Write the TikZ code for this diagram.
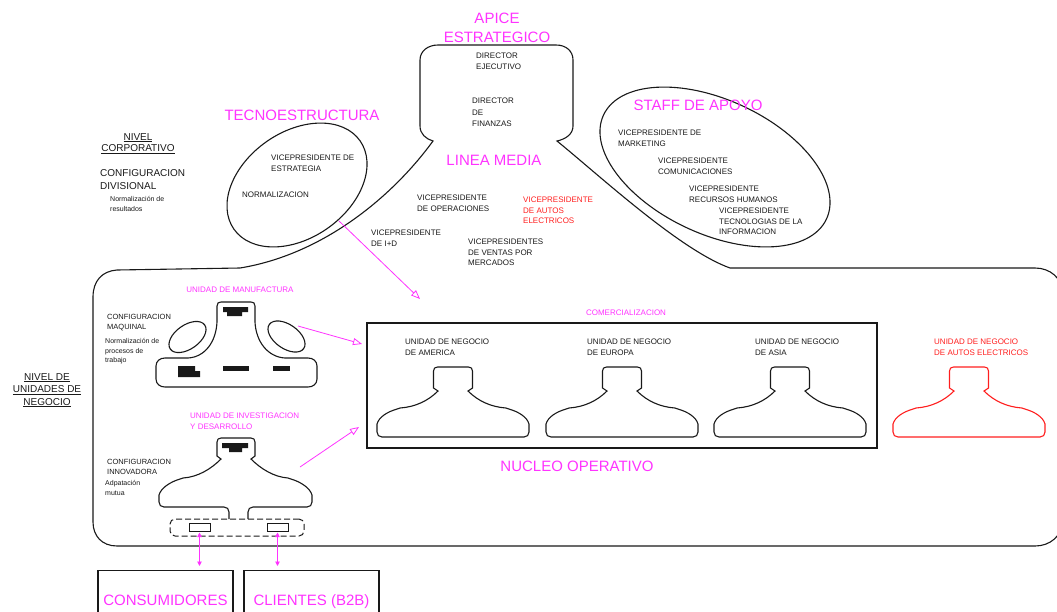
\documentclass[tikz,border=0pt]{standalone}
\usepackage{fontspec}
\setmainfont{Liberation Sans}
\usetikzlibrary{arrows.meta}
\definecolor{mag}{RGB}{255,51,255}
\definecolor{redx}{RGB}{255,30,30}
\definecolor{ink}{RGB}{25,25,25}
\begin{document}
\begin{tikzpicture}[x=1pt,y=-1pt,
  outline/.style={draw=ink,line width=1.1pt},
  txt/.style={inner sep=0pt,anchor=north west,align=left,text=ink,font=\fontsize{8}{10.5}\selectfont},
  smalltxt/.style={inner sep=0pt,anchor=north west,align=left,text=ink,font=\fontsize{7}{10}\selectfont},
  midtxt/.style={inner sep=0pt,anchor=north west,align=left,text=ink,font=\fontsize{7.5}{10}\selectfont},
  leveltxt/.style={inner sep=0pt,anchor=north,align=center,text=ink,font=\fontsize{10}{12}\selectfont},
  bigmag/.style={inner sep=0pt,anchor=north,align=center,text=mag,font=\fontsize{15}{19}\selectfont},
  unitmag/.style={inner sep=0pt,align=left,text=mag,font=\fontsize{8}{10.5}\selectfont},
  parrow/.style={draw=mag,line width=0.8pt,-{Triangle[open,length=9pt,width=7pt]}},
  dblarrow/.style={draw=mag,line width=0.9pt,{Triangle[length=4.5pt,width=4.5pt]}-{Triangle[length=4.5pt,width=4.5pt]}},
  custbox/.style={draw=ink,line width=1.1pt,anchor=north,minimum width=135pt,minimum height=58pt,
    text=mag,font=\fontsize{15}{19}\selectfont,text height=11pt,text depth=0pt},
  tinybox/.style={draw=ink,line width=1pt,minimum width=21pt,minimum height=8pt,inner sep=0pt},
  bu/.pic={
    \draw[line width=1.1pt] (-15,24) .. controls (-25,34) and (-38,40) .. (-53,41) -- (-56,42)
      .. controls (-66,45) and (-74,50) .. (-76,57) -- (-76,65)
      .. controls (-76,68) and (-74,70) .. (-71,70) -- (71,70)
      .. controls (74,70) and (76,68) .. (76,65) -- (76,57)
      .. controls (74,50) and (66,45) .. (56,42) -- (53,41)
      .. controls (38,40) and (25,34) .. (15,24) -- (19.5,21) -- (19.5,4)
      .. controls (19.5,1.5) and (18,0) .. (15.5,0) -- (-15.5,0)
      .. controls (-18,0) and (-19.5,1.5) .. (-19.5,4) -- (-19.5,21) -- cycle;
  }]
\useasboundingbox (0,0) rectangle (1057,611);

% ---- main outline: business-unit frame, middle line and strategic apex
\draw[outline] (93,470) -- (93,297) .. controls (93,281) and (102,271) .. (117,270)
  -- (240,268) .. controls (320,255) and (390,200) .. (433,141)
  .. controls (426,139) and (420,134) .. (420,126) -- (420,60)
  .. controls (420,51) and (428,45) .. (438,45) -- (556,45)
  .. controls (566,45) and (573,51) .. (573,60) -- (573,126)
  .. controls (573,134) and (566,139) .. (557,141)
  .. controls (600,176) and (680,250) .. (730,268) -- (1035,268)
  .. controls (1050,268) and (1062,278) .. (1062,292) -- (1062,522)
  .. controls (1062,536) and (1050,546) .. (1035,546) -- (117,546)
  .. controls (102,546) and (93,536) .. (93,522) -- cycle;

% ---- technostructure and support staff
\draw[outline,rotate around={35:(297,185)}] (297,185) ellipse [x radius=77, y radius=53];
\draw[outline,rotate around={-25:(715,167)}] (715,167) ellipse [x radius=123, y radius=67];

% ---- headings
\node[bigmag] (apice) at (497,13) {APICE\\ESTRATEGICO};
\node[bigmag] (tecno) at (302,110) {TECNOESTRUCTURA};
\node[bigmag] (staff) at (698,100) {STAFF DE APOYO};
\node[bigmag] (linea) at (494,155) {LINEA MEDIA};
\node[bigmag] (nucleo) at (577,461) {NUCLEO OPERATIVO};

% ---- apex and middle line positions
\node[txt] (ceo) at (476,53) {DIRECTOR\\EJECUTIVO};
\node[txt,font=\fontsize{8}{11.5}\selectfont] (cfo) at (472,98) {DIRECTOR\\DE\\FINANZAS};
\node[txt] (vpest) at (271,155) {VICEPRESIDENTE DE\\ESTRATEGIA};
\node[txt] (norm) at (242,192) {NORMALIZACION};
\node[txt] (vpop) at (417,195) {VICEPRESIDENTE\\DE OPERACIONES};
\node[txt,text=redx] (vpae) at (523,197) {VICEPRESIDENTE\\DE AUTOS\\ELECTRICOS};
\node[txt] (vpid) at (371,230) {VICEPRESIDENTE\\DE I+D};
\node[txt] (vpven) at (468,239) {VICEPRESIDENTES\\DE VENTAS POR\\MERCADOS};
\node[txt] (vpmk) at (618,130) {VICEPRESIDENTE DE\\MARKETING};
\node[txt] (vpcom) at (658,158) {VICEPRESIDENTE\\COMUNICACIONES};
\node[txt] (vprh) at (689,186) {VICEPRESIDENTE\\RECURSOS HUMANOS};
\node[txt] (vpti) at (719,208) {VICEPRESIDENTE\\TECNOLOGIAS DE LA\\INFORMACION};

% ---- level labels
\node[leveltxt,font=\fontsize{10}{11.5}\selectfont] (nivcorp) at (138,133) {\underline{NIVEL}\\\underline{CORPORATIVO}};
\node[txt,font=\fontsize{10}{13}\selectfont] (confdiv) at (100,169) {CONFIGURACION\\DIVISIONAL};
\node[smalltxt] (normres) at (110,196) {Normalización de\\resultados};
\node[leveltxt,font=\fontsize{10}{12.5}\selectfont] (nivun) at (47,373) {\underline{NIVEL DE}\\\underline{UNIDADES DE}\\\underline{NEGOCIO}};

% ---- manufacturing unit
\node[unitmag,anchor=north] (manuf) at (240,287) {UNIDAD DE MANUFACTURA};
\node[midtxt] (confmaq) at (107,314) {CONFIGURACION\\MAQUINAL};
\node[smalltxt,font=\fontsize{7}{9.7}\selectfont] (normproc) at (105,338) {Normalización de\\procesos de\\trabajo};
\draw[outline] (217,322) -- (217,306) .. controls (217,303) and (218.5,302) .. (221,302) -- (251,302)
  .. controls (253.5,302) and (255,303) .. (255,306) -- (255,322)
  .. controls (256,342) and (268,357) .. (285,358) -- (308,358)
  .. controls (313,358) and (317,361) .. (317,366) -- (317,379)
  .. controls (317,384) and (313,387) .. (308,387) -- (165,387)
  .. controls (160,387) and (156,384) .. (156,379) -- (156,366)
  .. controls (156,361) and (160,358) .. (165,358) -- (188,358)
  .. controls (205,357) and (216,342) .. (217,322) -- cycle;
\draw[outline,rotate around={35:(187.5,337)}] (187.5,337) ellipse [x radius=21, y radius=12];
\draw[outline,rotate around={-35:(286.5,336.5)}] (286.5,336.5) ellipse [x radius=21, y radius=12];
\fill[ink] (223,307) rectangle (248,312) (227,312) rectangle (242,316);
\fill[ink] (178,366) rectangle (195,377) (195,371) rectangle (200,377);
\fill[ink] (223,366) rectangle (249,371);
\fill[ink] (273,366) rectangle (290,371);

% ---- research and development unit
\node[unitmag,anchor=north west] (idu) at (190,413) {UNIDAD DE INVESTIGACION\\Y DESARROLLO};
\node[midtxt] (confinn) at (107,459) {CONFIGURACION\\INNOVADORA};
\node[smalltxt] (adap) at (105,480) {Adpatación\\mutua};
\draw[outline] (229,519) -- (229,512) .. controls (229,509) and (227,507) .. (224,507) -- (164,507)
  .. controls (161,507) and (159,505) .. (159,502) -- (159,495)
  .. controls (161,488) and (170,482) .. (180,479) -- (183,478)
  .. controls (198,477) and (211,469) .. (221,459) -- (217,456) -- (217,442)
  .. controls (217,439.5) and (218.5,438) .. (221,438) -- (251,438)
  .. controls (253.5,438) and (255,439.5) .. (255,442) -- (255,456) -- (251,459)
  .. controls (261,469) and (274,477) .. (288,478) -- (291,479)
  .. controls (301,482) and (310,488) .. (312,495) -- (312,502)
  .. controls (312,505) and (310,507) .. (307,507) -- (253,507)
  .. controls (250,507) and (248,509) .. (248,512) -- (248,519);
\fill[ink] (222,443) rectangle (248,448) (229,448) rectangle (242,452);
\node[draw=ink,line width=1pt,dash pattern=on 6pt off 3pt,rounded corners=5pt,
  minimum width=134pt,minimum height=17pt,inner sep=0pt] (opbox) at (237,527.5) {};
\node[tinybox] (c1) at (199.5,527) {};
\node[tinybox] (c2) at (277.5,527) {};

% ---- customers
\node[custbox] (cons) at (165.5,570) {CONSUMIDORES};
\node[custbox] (cli) at (311.5,570) {CLIENTES (B2B)};
\draw[dblarrow,shorten >=4pt,shorten <=1pt] (c1.south) -- (c1.south |- cons.north);
\draw[dblarrow,shorten >=4pt,shorten <=1pt] (c2.south) -- (c2.south |- cli.north);

% ---- commercialisation: business units
\node[draw=ink,line width=1.1pt,minimum width=510pt,minimum height=125pt,inner sep=0pt] (core) at (622,385.5) {};
\node[unitmag,anchor=north] (comer) at (626,310) {COMERCIALIZACION};
\node[txt] (ua) at (405,339) {UNIDAD DE NEGOCIO\\DE AMERICA};
\node[txt] (ue) at (587,339) {UNIDAD DE NEGOCIO\\DE EUROPA};
\node[txt] (uas) at (755,339) {UNIDAD DE NEGOCIO\\DE ASIA};
\node[txt,text=redx] (uae) at (934,339) {UNIDAD DE NEGOCIO\\DE AUTOS ELECTRICOS};
\pic[color=ink] at (453,367) {bu};
\pic[color=ink] at (622,367) {bu};
\pic[color=ink] at (790,367) {bu};
\pic[color=redx] at (969,367) {bu};

% ---- relations
\coordinate (t0) at (339,221);
\coordinate (t1) at (420,299);
\coordinate (m0) at (298,326);
\coordinate (m1) at (362,344);
\coordinate (r0) at (300,467);
\coordinate (r1) at (359,427);
\draw[parrow] (t0) -- (t1);
\draw[parrow] (m0) -- (m1);
\draw[parrow] (r0) -- (r1);
\end{tikzpicture}
\end{document}
